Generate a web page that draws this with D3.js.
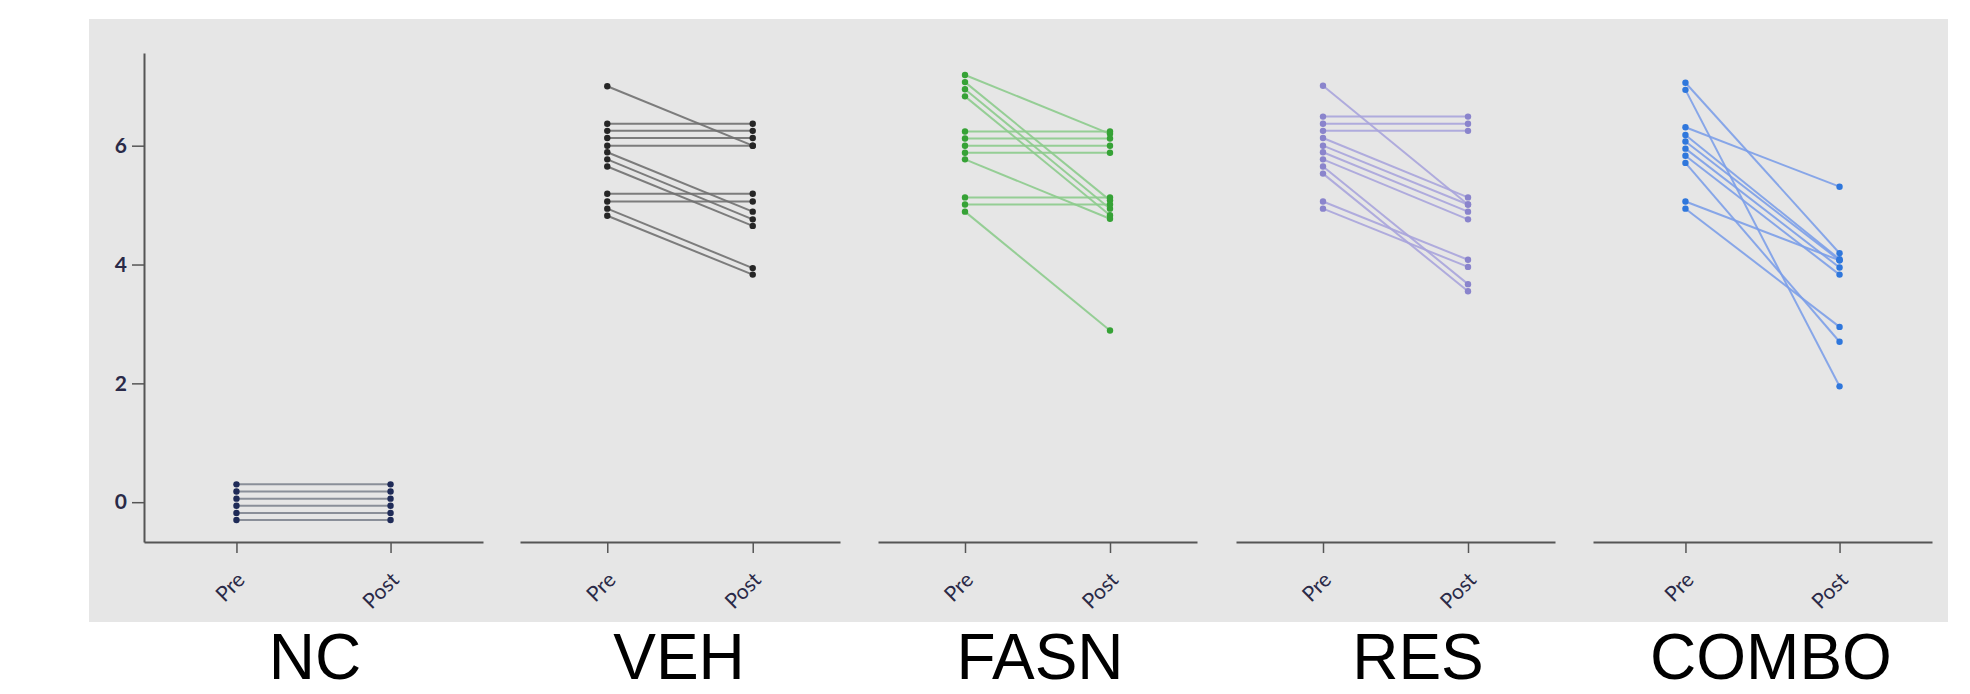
<!DOCTYPE html>
<html>
<head>
<meta charset="utf-8">
<script src="https://cdn.jsdelivr.net/npm/d3@7"></script>
<style>
  html, body { margin: 0; padding: 0; background: #ffffff; }
  svg { display: block; }
</style>
</head>
<body>
<svg id="chart" width="1970" height="694"></svg>
<script>
// Paired Pre/Post measurements per treatment group
const groups = ["NC", "VEH", "FASN", "RES", "COMBO"];
const timepoints = ["Pre", "Post"];
const yTicks = [0, 2, 4, 6];

const ncPre    = [0.30, 0.18, 0.06, -0.06, -0.18, -0.30];
const ncPost   = [0.30, 0.18, 0.06, -0.06, -0.18, -0.30];

const vehPre   = [7.00, 6.37, 6.25, 6.13, 6.00, 5.89, 5.77, 5.65, 5.19, 5.06, 4.94, 4.82];
const vehPost  = [6.00, 6.37, 6.25, 6.13, 6.00, 4.89, 4.76, 4.65, 5.19, 5.06, 3.94, 3.83];

const fasnPre  = [7.19, 7.07, 6.95, 6.83, 6.24, 6.12, 6.00, 5.88, 5.77, 5.13, 5.01, 4.89];
const fasnPost = [6.20, 5.08, 4.94, 4.83, 6.24, 6.12, 6.00, 5.88, 4.77, 5.13, 5.01, 2.89];

const resPre   = [7.01, 6.49, 6.37, 6.25, 6.13, 6.00, 5.89, 5.77, 5.65, 5.53, 5.06, 4.94];
const resPost  = [5.01, 6.49, 6.37, 6.25, 5.13, 5.01, 4.89, 4.76, 3.67, 3.55, 4.08, 3.96];

const comboPre  = [7.06, 6.94, 6.31, 6.18, 6.07, 5.95, 5.83, 5.71, 5.06, 4.94];
const comboPost = [4.19, 1.95, 5.31, 4.09, 4.07, 3.95, 3.83, 2.70, 4.07, 2.95];

const preValues  = [ncPre, vehPre, fasnPre, resPre, comboPre];
const postValues = [ncPost, vehPost, fasnPost, resPost, comboPost];

const lineColors = ["#808590", "#707070", "#8ccb8c", "#a9a4dc", "#7c9fe8"];
const dotColors  = ["#1f2b58", "#262626", "#36a236", "#8a84cc", "#2f77dc"];

// Horizontal extent of each panel's x-axis
const panelRanges = [[144, 483], [520, 840], [878, 1197], [1236, 1555], [1593, 1932]];
const labelCenters = [315, 679, 1040, 1418, 1771];

const svg = d3.select("#chart");

// Grey plotting area
svg.append("rect")
  .attr("x", 89).attr("y", 19)
  .attr("width", 1859).attr("height", 603)
  .attr("fill", "#e6e6e6");

const y = d3.scaleLinear().domain([-0.67, 7.56]).range([542, 53]);

// y-axis (only on the first panel)
const yAxis = svg.append("g")
  .attr("transform", "translate(144,0)")
  .call(d3.axisLeft(y).tickValues(yTicks).tickSize(12).tickSizeOuter(0).tickPadding(5));
yAxis.select(".domain").attr("stroke", "#555").attr("stroke-width", 2);
yAxis.selectAll(".tick line").attr("stroke", "#555").attr("stroke-width", 1.5);
yAxis.selectAll(".tick text")
  .attr("fill", "#2a2a48")
  .style("font-family", "Lato, 'Open Sans', sans-serif")
  .style("font-weight", "700")
  .style("font-size", "21px");

groups.forEach((g, gi) => {
  const x = d3.scalePoint().domain(timepoints).range(panelRanges[gi]).padding(0.6);

  const xAxis = svg.append("g")
    .attr("transform", "translate(0,542)")
    .call(d3.axisBottom(x).tickSize(11).tickSizeOuter(0));
  xAxis.select(".domain").attr("stroke", "#555").attr("stroke-width", 2);
  xAxis.selectAll(".tick line").attr("stroke", "#555").attr("stroke-width", 1.5);
  xAxis.selectAll(".tick text")
    .attr("fill", "#2a2a48")
    .style("font-family", "Lato, 'Open Sans', sans-serif")
    .style("font-size", "21px")
    .attr("text-anchor", "end")
    .attr("transform", "translate(4,34) rotate(-45)")
    .attr("dy", "0.35em")
    .attr("y", 0)
    .attr("x", 0);

  const pairs = preValues[gi].map((v, i) => ({ pre: v, post: postValues[gi][i] }));

  svg.append("g").selectAll("line")
    .data(pairs)
    .join("line")
    .attr("x1", x("Pre")).attr("x2", x("Post"))
    .attr("y1", d => y(d.pre)).attr("y2", d => y(d.post))
    .attr("stroke", lineColors[gi])
    .attr("stroke-width", 2)
    .attr("stroke-opacity", 0.9);

  const pts = pairs.flatMap(d => [{ t: "Pre", v: d.pre }, { t: "Post", v: d.post }]);
  svg.append("g").selectAll("circle")
    .data(pts)
    .join("circle")
    .attr("cx", d => x(d.t))
    .attr("cy", d => y(d.v))
    .attr("r", 3.2)
    .attr("fill", dotColors[gi]);

  // Group name under the panel
  svg.append("text")
    .attr("x", labelCenters[gi])
    .attr("y", 679)
    .attr("text-anchor", "middle")
    .style("font-family", "'Liberation Sans', Arial, sans-serif")
    .style("font-size", "64px")
    .attr("fill", "#000")
    .text(g);
});
</script>
</body>
</html>
